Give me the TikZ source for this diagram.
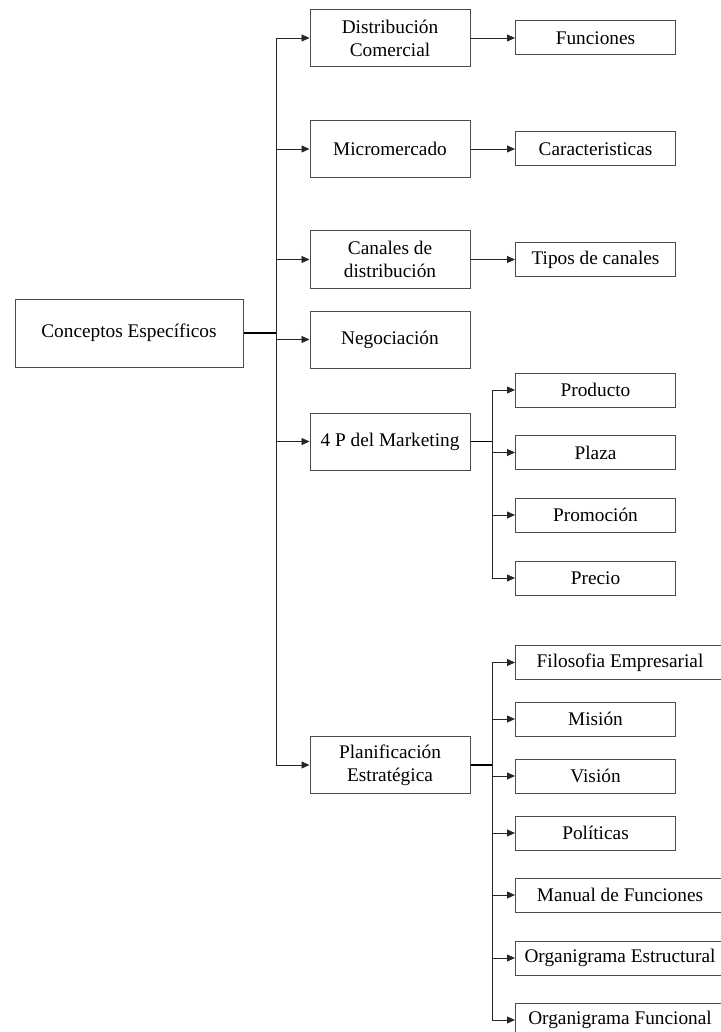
\documentclass[tikz,border=0pt]{standalone}
\usepackage{fontspec}
\setmainfont{Liberation Serif}
\usetikzlibrary{arrows.meta}
\tikzset{
  box/.style = {draw=black!70, line width=1pt, fill=white, align=center, inner sep=0pt, font=\fontsize{19.3}{23}\selectfont},
  mainbox/.style = {box, minimum width=160pt, minimum height=57pt},
  leafbox/.style = {box, anchor=west, minimum width=160pt, minimum height=34pt},
  widebox/.style = {leafbox, minimum width=209pt},
  link/.style = {draw=black!85, line width=0.8pt},
  fork/.style = {draw=black, line width=1.3pt},
  arr/.style = {link, -{Triangle[length=8pt,width=7pt]}},
}
\begin{document}
\begin{tikzpicture}[x=1pt, y=-1pt]
  \useasboundingbox (0,0) rectangle (720,1032); % page size of the reference
  % root and first level
  \node[box, minimum width=228pt, minimum height=68pt] (root) at (129,333) {Conceptos Específicos};
  \node[mainbox] (dist)  at (390,38)    {Distribución\\Comercial};
  \node[mainbox] (micro) at (390,149)   {Micromercado};
  \node[mainbox] (canal) at (390,259.5) {Canales de\\distribución};
  \node[mainbox] (nego)  at (390,339.5) {Negociación};
  \node[mainbox] (mkt)   at (390,441.5) {4 P del Marketing};
  \node[mainbox] (plan)  at (390,765)   {Planificación\\Estratégica};
  % second level
  \node[leafbox] (func)  at (515,38)    {Funciones};
  \node[leafbox] (carac) at (515,149)   {Caracteristicas};
  \node[leafbox] (tipos) at (515,259.5) {Tipos de canales};
  \foreach \n/\y/\t in {prod/390/Producto, plaza/452.5/Plaza, promo/515/Promoción, precio/578/Precio}
    \node[leafbox] (\n) at (515,\y) {\t};
  \foreach \n/\y/\s/\t in {filo/662.5/widebox/Filosofia Empresarial, mision/719/leafbox/Misión,
      vision/776/leafbox/Visión, polit/833/leafbox/Políticas, manual/895/widebox/Manual de Funciones,
      orgest/958/widebox/Organigrama Estructural, orgfun/1020/widebox/Organigrama Funcional}
    \node[\s] (\n) at (515,\y) {\t};
  % connectors
  \coordinate (trunk) at (276,333);
  \draw[fork] (root.east) -- (trunk);
  \draw[link] (trunk |- dist.west) -- (trunk |- plan.west);
  \foreach \n in {dist, micro, canal, nego, mkt, plan} { \draw[arr] (trunk |- \n.west) -- (\n.west); }
  \foreach \a/\b in {dist/func, micro/carac, canal/tipos} { \draw[arr] (\a.east) -- (\b.west); }
  \coordinate (mktfork) at (492,441.5);
  \draw[fork] (mkt.east) -- (mktfork);
  \draw[link] (mktfork |- prod.west) -- (mktfork |- precio.west);
  \foreach \n in {prod, plaza, promo, precio} { \draw[arr] (mktfork |- \n.west) -- (\n.west); }
  \coordinate (planfork) at (492,765);
  \draw[fork] (plan.east) -- (planfork);
  \draw[link] (planfork |- filo.west) -- (planfork |- orgfun.west);
  \foreach \n in {filo, mision, vision, polit, manual, orgest, orgfun} { \draw[arr] (planfork |- \n.west) -- (\n.west); }
\end{tikzpicture}
\end{document}
